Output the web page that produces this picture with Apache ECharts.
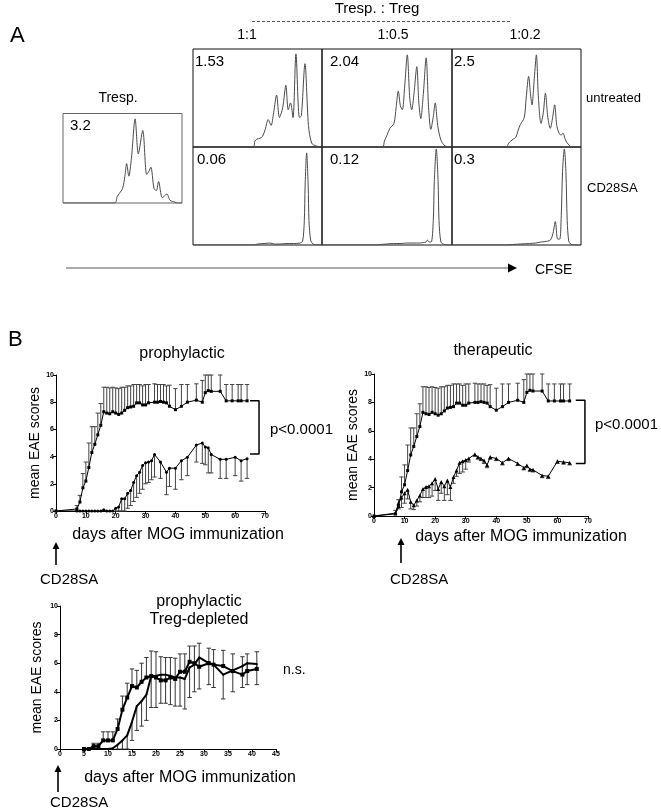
<!DOCTYPE html>
<html>
<head>
<meta charset="utf-8">
<script src="https://cdn.jsdelivr.net/npm/echarts@6/dist/echarts.min.js"></script>
<style>html,body{margin:0;padding:0;background:#fff}#c{width:661px;height:810px}</style>
</head>
<body>
<div id="c"></div>
<script>
// ---------- Panel A: CFSE histograms (x: CFSE channel 0-100, y: % of max count) ----------
const histTresp = [[0,0],[43.5,0],[45.5,7],[47.5,11],[50,16],[52,30],[53.5,44],[55.3,30],[57.5,50],[60.6,94],[63.3,55],[67,81],[70.3,32],[72,35],[73.8,40],[76.5,16],[78.5,14],[80.3,24],[83.5,6],[87.3,10],[90,3],[94,1],[96,0],[100,0]];
const histUntr11 = [[0,0],[46.6,0],[48,6],[49.5,8],[52,9],[54,11],[56,18],[58.3,28],[60.5,22],[62.5,35],[64.8,53],[67,30],[69.5,40],[72,63],[73.8,38],[75.6,45],[77.5,30],[79.8,95],[82.5,30],[84,32],[86.8,85],[89.5,22],[92,4],[95.5,1],[100,0]];
const histUntr05 = [[0,0],[46.5,0],[48,6],[50,12],[52.2,19],[55.3,24],[57,40],[58.7,57],[60.3,42],[61.8,38],[63.5,60],[65.6,94],[67.5,50],[69,38],[70.8,55],[72.9,82],[74.5,45],[76,29],[78,55],[80.1,91],[82,40],[83.7,18],[85.5,30],[87.1,45],[89,22],[91.5,7],[94.8,1],[100,0]];
const histUntr02 = [[0,0],[42,0],[44,4],[45.5,6],[47.5,8],[49.5,10],[51,16],[53,23],[56,30],[57.5,50],[59.4,72],[61,52],[62,43],[63.8,70],[65.4,94],[67,50],[69,24],[70.8,35],[72.4,55],[74.3,30],[76.2,19],[78,30],[79.6,43],[81.2,22],[82.7,15],[84.5,12],[86,14],[88,7],[90,3],[93,0],[100,0]];
const histSA11 = [[0,0],[46.6,0],[50,1],[55,1.5],[59.6,2],[63,1],[67.4,1],[72,1.5],[78,1.5],[82.9,2],[85,4],[86.3,25],[86.9,60],[88.1,94],[89.3,60],[89.9,25],[91.2,5],[93,1],[95,0],[100,0]];
const histSA05 = [[0,0],[41.9,0],[45,0.5],[49.6,1],[55,1.5],[60,1.5],[65.1,2],[70,2],[75,2],[78,2.5],[80,3],[81.1,5],[82.3,3],[84,3],[85.6,25],[86.4,65],[87.9,98],[89.3,65],[90,25],[91.5,3],[94,0.5],[96,0],[100,0]];
const histSA02 = [[0,0],[42.6,0],[47,0.5],[53,1],[60,1.5],[65,2],[68.5,3],[72,3.5],[76.2,5],[78.3,12],[80.1,24],[81.9,6],[83.5,6],[84.7,30],[85.7,75],[87.1,98],[88.3,75],[89.3,25],[90.5,4],[92,1],[94.3,0],[100,0]];
const pctUntr = ['1.53','2.04','2.5'];
const pctSA = ['0.06','0.12','0.3'];
const pctTresp = '3.2';
const ratios = ['1:1','1:0.5','1:0.2'];

// ---------- Panel B: EAE scores ----------
// control (untreated) group, shared by prophylactic and therapeutic graphs
const ctrlDays = [0,7,8,9,10,11,12,13,14,15,16,17,18,19,20,21,22,23,24,25,26,27,28,29,30,31,33,34,35,36,37,38,40,42,44,47,49,50,51,52,55,57,59,61,62,64];
const ctrlMean = [0,0.15,0.66,1.7,2.2,3.2,4.3,4.9,5.6,6.3,7.3,7.2,7.15,7.3,7.2,7.1,7.2,7.4,7.6,7.65,7.7,7.95,7.95,7.8,7.8,7.95,8.0,8.0,8.05,8.0,7.95,7.7,7.45,7.7,8.0,8.15,8.0,8.7,8.85,8.8,8.8,8.1,8.1,8.1,8.1,8.1];
const ctrlUpper = [0,0.4,1.15,2.75,3.6,5.0,6.2,6.2,7.2,7.9,9.1,9.1,9.05,9.1,9.05,9.0,9.1,9.1,9.2,9.2,9.3,9.3,9.3,9.2,9.3,9.3,9.35,9.3,9.3,9.3,9.2,9.25,9.0,9.3,9.3,9.35,9.6,10,10,10,10,9.3,9.3,9.3,9.3,9.3];
// prophylactic CD28SA
const proDays = [0,7,8,9,10,11,12,13,14,15,16,17,18,19,20,21,22,23,24,25,26,27,28,29,30,31,32,33,35,37,38,40,42,44,47,49,50,51,52,55,57,60,62,64];
const proMean = [0,0,0,0,0,0,0,0,0,0,0.1,0,0,0,0.2,0.3,0.9,0.9,1.3,1.5,2.1,2.6,2.85,3.35,3.55,3.6,3.7,4.15,3.6,2.85,3.15,3.15,3.7,3.95,4.85,5.0,4.7,4.65,4.15,3.8,3.8,3.95,3.7,3.85];
const proLower = [0,0,0,0,0,0,0,0,0,0,0.1,0,0,0,0,0,0,0,0.2,0.4,0.7,1.0,1.3,1.6,2.0,2.1,2.3,2.5,2.4,1.2,1.8,1.6,2.3,2.6,3.6,3.5,3.4,2.8,2.8,2.4,2.4,2.6,2.2,2.4];
// therapeutic CD28SA
const therDays = [0,7,8,9,10,11,12,13,14,15,16,17,18,19,20,21,22,23,24,25,26,27,28,29,30,31,33,34,35,36,37,38,40,42,44,47,49,50,51,52,55,57,60,62,64];
const therMean = [0,0.2,0.9,1.3,1.6,1.85,1.0,0.75,1.1,1.45,1.9,2.05,2.1,2.3,2.6,1.9,2.4,2.1,2.5,2.05,2.75,3.2,3.75,3.85,3.95,4.05,4.35,4.15,4.05,3.9,3.6,4.15,4.05,3.75,4.05,3.7,3.4,3.55,3.3,3.25,2.85,2.8,3.85,3.8,3.75];
const therLower = [0,0.2,0.5,0.6,0.9,1.2,0.5,0.45,0.7,1.0,1.3,1.3,1.3,1.4,1.8,1.1,1.6,1.1,1.5,1.1,2.3,2.8,3.0,3.1,3.3,3.8,4.2,4.0,3.9,3.7,3.4,4.0,3.9,3.6,3.9,3.55,3.25,3.4,3.15,3.1,2.7,2.65,3.7,3.65,3.6];
// prophylactic, Treg-depleted
const depDays = [5,6,7,8,9,10,11,12,13,14,15,16,17,18,19,20,21,22,23,24,25,26,27,28,29,31,32,34,36,38,39,41];
const depAMean = [0,0,0.2,0.2,0.6,0.6,0.6,1.4,2.75,3.6,4.4,4.3,4.7,5.0,5.1,5.0,4.8,4.8,5.0,4.9,5.4,5.4,6.1,6.0,5.75,6.0,5.9,5.8,5.45,5.2,5.45,5.6];
const depAUpper = [0,0,0.4,0.4,1.2,1.2,1.2,2.1,3.7,4.6,5.6,5.5,6.0,6.4,6.85,6.8,6.45,6.4,6.4,6.35,6.65,6.65,7.2,7.2,7.4,7.05,6.95,6.9,6.65,6.45,6.65,6.8];
const depBMean = [0,0,0,0,0,0,0.05,0.3,0.6,0.95,1.9,3.0,3.35,3.8,5.1,5.1,5.2,5.2,5.1,5.0,5.0,4.9,5.7,5.9,6.4,6.0,5.9,5.2,5.5,5.8,6.0,5.95];
const depBLower = [0,0,0,0,0,0,0.05,0,0,0,0.6,1.3,1.6,2.0,2.9,2.9,3.2,3.2,3.1,3.0,3.0,2.8,3.6,4.0,4.2,4.5,4.3,3.5,4.0,4.3,4.5,4.5];
const bracketPro = [[65,8.1],[68,8.1],[68,4.2],[65,4.2]];
const bracketTher = [[66,8.15],[69,8.15],[69,3.7],[66,3.7]];

const FONT = 'Liberation Sans, Arial, sans-serif';
const chart = echarts.init(document.getElementById('c'), null, {renderer:'canvas'});

const grids = [];
const xAxes = [];
const yAxes = [];
const series = [];
function histGrid(left, top, w, h, border) {
  grids.push({left, top, width:w, height:h, show:true, borderColor:border, borderWidth:1, backgroundColor:'transparent', containLabel:false, outerBoundsMode:'none'});
  const i = grids.length - 1;
  xAxes.push({gridIndex:i, type:'value', min:0, max:100, show:false});
  yAxes.push({gridIndex:i, type:'value', min:0, max:100, show:false});
  return i;
}
function histSeries(i, data) {
  series.push({type:'line', xAxisIndex:i, yAxisIndex:i, data, smooth:0.3, showSymbol:false, symbol:'none',
    lineStyle:{color:'#4a4a4a', width:1}, silent:true, z:3});
}
const gT = histGrid(63, 113.5, 119, 89.5, '#666');
histSeries(gT, histTresp);
const colL = [193, 322, 452], colW = [129, 130, 129];
const untr = [histUntr11, histUntr05, histUntr02];
const sa = [histSA11, histSA05, histSA02];
for (let c = 0; c < 3; c++) {
  const g = histGrid(colL[c], 49, colW[c], 98, '#111');
  histSeries(g, untr[c]);
}
for (let c = 0; c < 3; c++) {
  const g = histGrid(colL[c], 147, colW[c], 98, '#111');
  histSeries(g, sa[c]);
}

function eaeGrid(left, top, w, h, xmax, xint, nameGapY) {
  grids.push({left, top, width:w, height:h, show:false, containLabel:false, outerBoundsMode:'none'});
  const i = grids.length - 1;
  const lbl = {fontSize:7, fontWeight:'bold', color:'#000', margin:2, fontFamily:FONT};
  xAxes.push({gridIndex:i, type:'value', min:0, max:xmax, interval:xint,
    axisLine:{show:true, onZero:false, lineStyle:{color:'#000', width:1}},
    axisTick:{show:true, length:3, lineStyle:{color:'#000'}},
    axisLabel:lbl, splitLine:{show:false}});
  yAxes.push({gridIndex:i, type:'value', min:0, max:10, interval:2,
    axisLine:{show:true, onZero:false, lineStyle:{color:'#000', width:1}},
    axisTick:{show:true, length:3, lineStyle:{color:'#000'}},
    axisLabel:lbl, splitLine:{show:false},
    name:'mean EAE scores', nameLocation:'middle', nameGap:nameGapY, nameRotate:90,
    nameTextStyle:{fontSize:14, color:'#000', fontFamily:FONT}});
  return i;
}
function meanLine(i, days, mean, symbol, size, width) {
  series.push({type:'line', xAxisIndex:i, yAxisIndex:i, data:days.map((d,k)=>[d, mean[k]]),
    symbol, symbolSize:size, showSymbol:true, smooth:false,
    itemStyle:{color:'#000'}, lineStyle:{color:'#000', width}, silent:true, z:4});
}
function errBars(i, days, mean, bound, color) {
  series.push({type:'custom', xAxisIndex:i, yAxisIndex:i,
    data:days.map((d,k)=>[d, mean[k], bound[k]]),
    encode:{x:0, y:[1,2]}, silent:true, z:2,
    renderItem:function(params, api){
      const a = api.coord([api.value(0), api.value(1)]);
      const b = api.coord([api.value(0), api.value(2)]);
      if (Math.abs(a[1]-b[1]) < 1) return {type:'group', children:[]};
      const w = 2.2;
      return {type:'group', children:[
        {type:'line', shape:{x1:a[0], y1:a[1], x2:b[0], y2:b[1]}, style:{stroke:color, lineWidth:1}},
        {type:'line', shape:{x1:b[0]-w, y1:b[1], x2:b[0]+w, y2:b[1]}, style:{stroke:color, lineWidth:1}}
      ]};
    }});
}
function bracket(i, data) {
  series.push({type:'line', xAxisIndex:i, yAxisIndex:i, data, symbol:'none', showSymbol:false,
    lineStyle:{color:'#000', width:1.5}, silent:true, z:4});
}

const gP = eaeGrid(56, 375, 209, 136, 70, 10, 12);
errBars(gP, ctrlDays, ctrlMean, ctrlUpper, '#444');
errBars(gP, proDays, proMean, proLower, '#444');
meanLine(gP, ctrlDays, ctrlMean, 'rect', 3, 1);
meanLine(gP, proDays, proMean, 'circle', 3, 1);
bracket(gP, bracketPro);

const gH = eaeGrid(374, 374, 214, 142, 70, 10, 12);
errBars(gH, ctrlDays, ctrlMean, ctrlUpper, '#444');
errBars(gH, therDays, therMean, therLower, '#444');
meanLine(gH, ctrlDays, ctrlMean, 'rect', 3, 1);
meanLine(gH, therDays, therMean, 'triangle', 4, 1);
bracket(gH, bracketTher);

const gD = eaeGrid(60, 606, 216, 143, 45, 5, 16);
errBars(gD, depDays, depAMean, depAUpper, '#333');
errBars(gD, depDays, depBMean, depBLower, '#333');
meanLine(gD, depDays, depAMean, 'rect', 4, 2);
meanLine(gD, depDays, depBMean, 'circle', 2, 2);

function txt(text, x, y, size, align, extra) {
  return Object.assign({type:'text', silent:true, style:{text, x, y, fill:'#000',
    font: size + 'px ' + FONT, textAlign:align || 'left', textVerticalAlign:'middle'}}, extra || {});
}
function upArrow(x, yTop, yBottom) {
  return [
    {type:'line', silent:true, shape:{x1:x, y1:yBottom, x2:x, y2:yTop+6}, style:{stroke:'#000', lineWidth:1.6}},
    {type:'polygon', silent:true, shape:{points:[[x-3.5, yTop+7],[x, yTop],[x+3.5, yTop+7]]}, style:{fill:'#000'}}
  ];
}
const xName = 'days after MOG immunization';
const graphics = [
  txt('A', 10, 36, 22),
  txt('Tresp. : Treg', 377, 9, 15, 'center'),
  {type:'line', silent:true, shape:{x1:252, y1:21.5, x2:510, y2:21.5}, style:{stroke:'#555', lineWidth:1, lineDash:[3,2]}},
  txt(ratios[0], 247, 35, 14, 'center'),
  txt(ratios[1], 393, 35, 14, 'center'),
  txt(ratios[2], 525, 35, 14, 'center'),
  txt('Tresp.', 118, 98, 14, 'center'),
  txt(pctTresp, 70, 126, 15),
  txt(pctUntr[0], 195, 62, 15),
  txt(pctUntr[1], 330, 62, 15),
  txt(pctUntr[2], 454, 62, 15),
  txt(pctSA[0], 197, 160, 15),
  txt(pctSA[1], 330, 160, 15),
  txt(pctSA[2], 454, 160, 15),
  txt('untreated', 586, 98, 13),
  txt('CD28SA', 587, 188, 13),
  {type:'line', silent:true, shape:{x1:66, y1:268, x2:509, y2:268}, style:{stroke:'#555', lineWidth:1.2}},
  {type:'polygon', silent:true, shape:{points:[[508,263.5],[517,268],[508,272.5]]}, style:{fill:'#000'}},
  txt('CFSE', 535, 270, 14),
  txt('B', 8, 340, 22),
  txt('prophylactic', 182, 354, 16, 'center'),
  txt(xName, 178, 535, 16, 'center'),
  txt('p<0.0001', 270, 430, 15),
  txt('CD28SA', 40, 580, 15),
  txt('therapeutic', 493, 351, 16, 'center'),
  txt(xName, 521, 537, 16, 'center'),
  txt('p<0.0001', 595, 425, 15),
  txt('CD28SA', 390, 580, 15),
  txt('prophylactic', 199, 602, 16, 'center'),
  txt('Treg-depleted', 199, 620, 16, 'center'),
  txt(xName, 190, 778, 16, 'center'),
  txt('n.s.', 283, 670, 14),
  txt('CD28SA', 50, 803, 15)
].concat(upArrow(56, 542, 565), upArrow(401, 538, 563), upArrow(58, 765, 792));

chart.setOption({
  animation:false,
  backgroundColor:'#fff',
  textStyle:{fontFamily:FONT},
  grid:grids, xAxis:xAxes, yAxis:yAxes, series, graphic:graphics
});
</script>
</body>
</html>
